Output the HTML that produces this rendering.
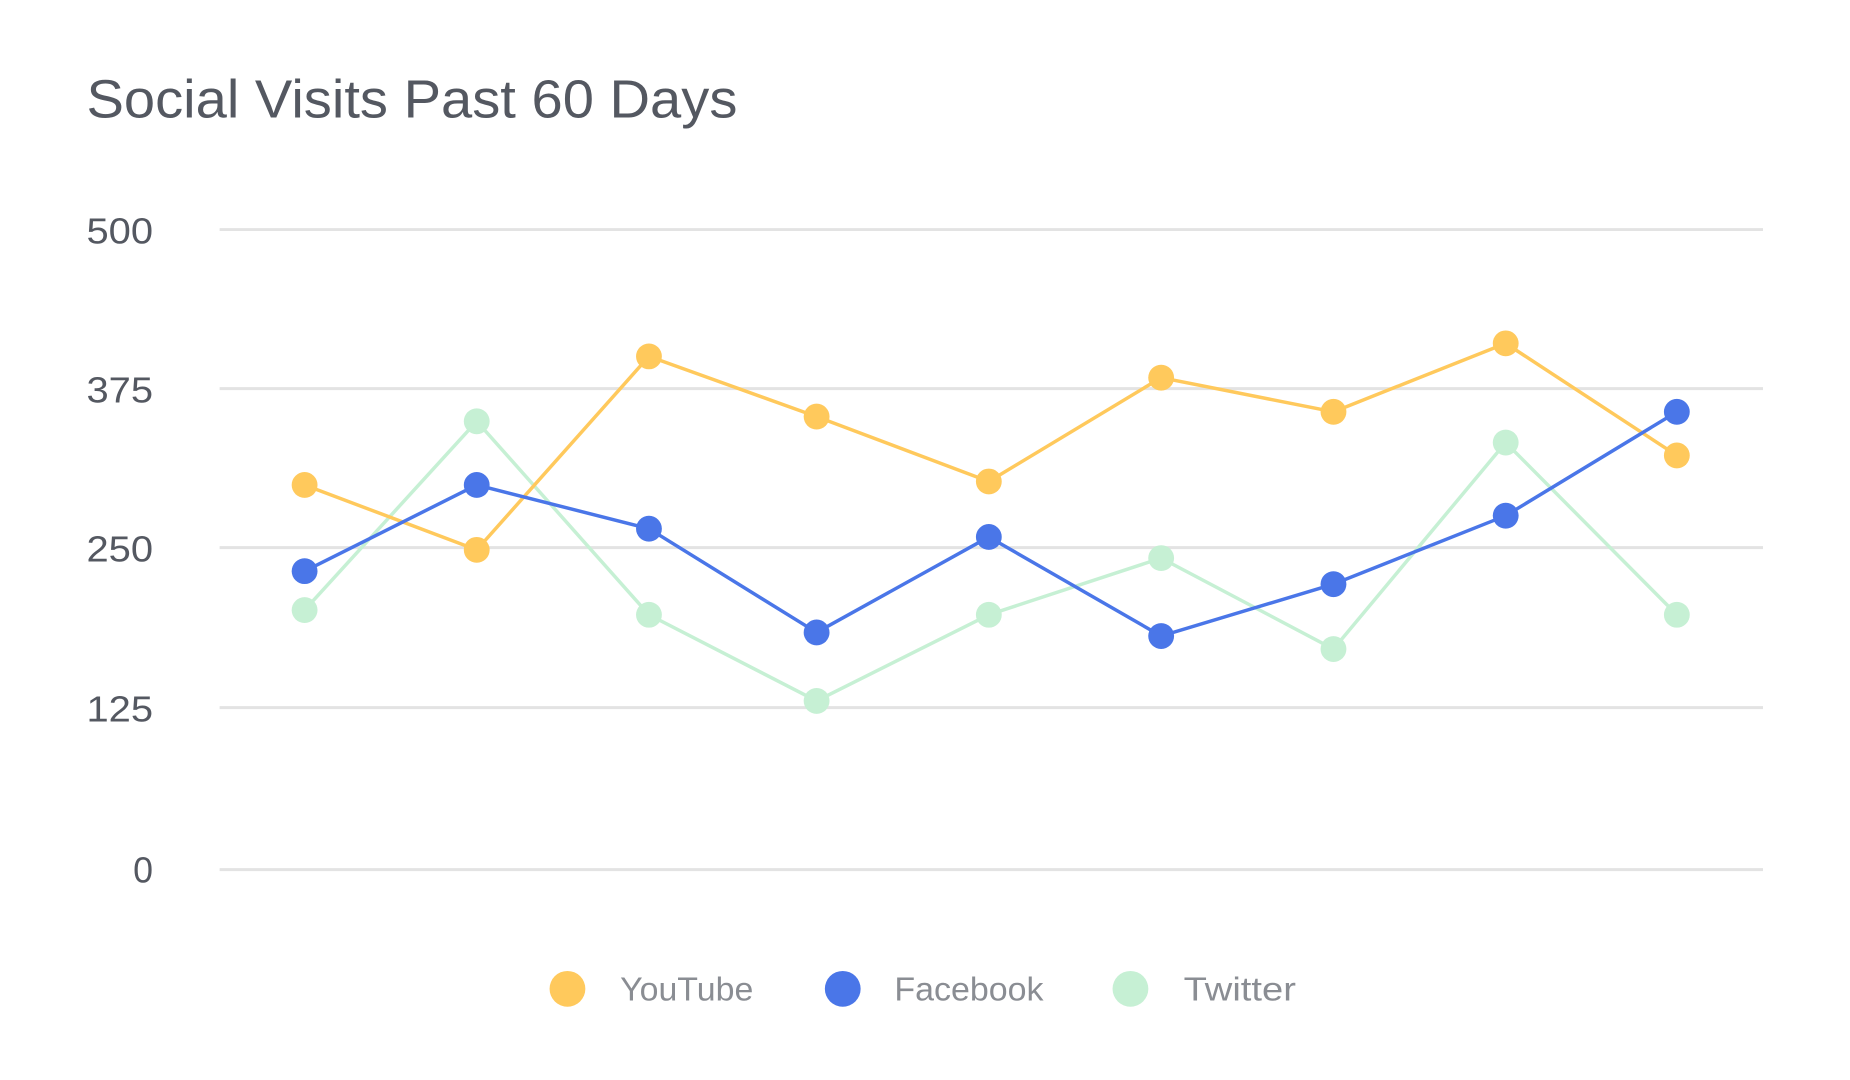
<!DOCTYPE html>
<html><head><style>
html,body{margin:0;padding:0;background:#fff;}
svg{display:block;}
text{font-family:"Liberation Sans",sans-serif;}
</style></head><body>
<svg width="1850" height="1080" viewBox="0 0 1850 1080" xmlns="http://www.w3.org/2000/svg">
<g transform="scale(0.9938)">
<text x="87" y="118" font-size="54" fill="#545861" textLength="655" lengthAdjust="spacingAndGlyphs">Social Visits Past 60 Days</text>
<g stroke="#e3e3e3" stroke-width="3">
<line x1="221" y1="231" x2="1774" y2="231"/>
<line x1="221" y1="391" x2="1774" y2="391"/>
<line x1="221" y1="551" x2="1774" y2="551"/>
<line x1="221" y1="712" x2="1774" y2="712"/>
<line x1="221" y1="875" x2="1774" y2="875"/>
</g>
<g font-size="36" fill="#545861" text-anchor="end">
<text x="154" y="245" textLength="67" lengthAdjust="spacingAndGlyphs">500</text>
<text x="154" y="405" textLength="67" lengthAdjust="spacingAndGlyphs">375</text>
<text x="154" y="565" textLength="67" lengthAdjust="spacingAndGlyphs">250</text>
<text x="154" y="726" textLength="67" lengthAdjust="spacingAndGlyphs">125</text>
<text x="154" y="888">0</text>
</g>
<g fill="none" stroke-width="3.5" stroke-linejoin="round">
<polyline stroke="#c6f0d4" points="306.5,613.9 479.7,423.9 653,618.6 821.7,705.3 995,618.6 1168.4,561.6 1341.8,653.1 1515.1,445.3 1687.3,618.6"/>
<polyline stroke="#ffc95c" points="306.5,488 479.7,553.3 653,358.6 821.7,419.2 995,484.5 1168.4,380 1341.8,414.4 1515.1,345.5 1687.3,458.3"/>
<polyline stroke="#4a76e8" points="306.5,574.7 479.7,488 653,532 821.7,636.4 995,540.3 1168.4,640 1341.8,587.8 1515.1,518.9 1687.3,414.4"/>
</g>
<g fill="#c6f0d4">
<circle cx="306.5" cy="613.9" r="13"/><circle cx="479.7" cy="423.9" r="13"/><circle cx="653" cy="618.6" r="13"/><circle cx="821.7" cy="705.3" r="13"/><circle cx="995" cy="618.6" r="13"/><circle cx="1168.4" cy="561.6" r="13"/><circle cx="1341.8" cy="653.1" r="13"/><circle cx="1515.1" cy="445.3" r="13"/><circle cx="1687.3" cy="618.6" r="13"/>
</g>
<g fill="#ffc95c">
<circle cx="306.5" cy="488" r="13"/><circle cx="479.7" cy="553.3" r="13"/><circle cx="653" cy="358.6" r="13"/><circle cx="821.7" cy="419.2" r="13"/><circle cx="995" cy="484.5" r="13"/><circle cx="1168.4" cy="380" r="13"/><circle cx="1341.8" cy="414.4" r="13"/><circle cx="1515.1" cy="345.5" r="13"/><circle cx="1687.3" cy="458.3" r="13"/>
</g>
<g fill="#4a76e8">
<circle cx="306.5" cy="574.7" r="13"/><circle cx="479.7" cy="488" r="13"/><circle cx="653" cy="532" r="13"/><circle cx="821.7" cy="636.4" r="13"/><circle cx="995" cy="540.3" r="13"/><circle cx="1168.4" cy="640" r="13"/><circle cx="1341.8" cy="587.8" r="13"/><circle cx="1515.1" cy="518.9" r="13"/><circle cx="1687.3" cy="414.4" r="13"/>
</g>
<circle cx="571" cy="995" r="18" fill="#ffc95c"/>
<circle cx="848" cy="995" r="18" fill="#4a76e8"/>
<circle cx="1137.5" cy="995" r="18" fill="#c6f0d4"/>
<g font-size="34" fill="#8a8d93">
<text x="624" y="1007" textLength="134" lengthAdjust="spacingAndGlyphs">YouTube</text>
<text x="900" y="1007" textLength="150" lengthAdjust="spacingAndGlyphs">Facebook</text>
<text x="1191" y="1007" textLength="113" lengthAdjust="spacingAndGlyphs">Twitter</text>
</g>
</g>
</svg>
</body></html>
